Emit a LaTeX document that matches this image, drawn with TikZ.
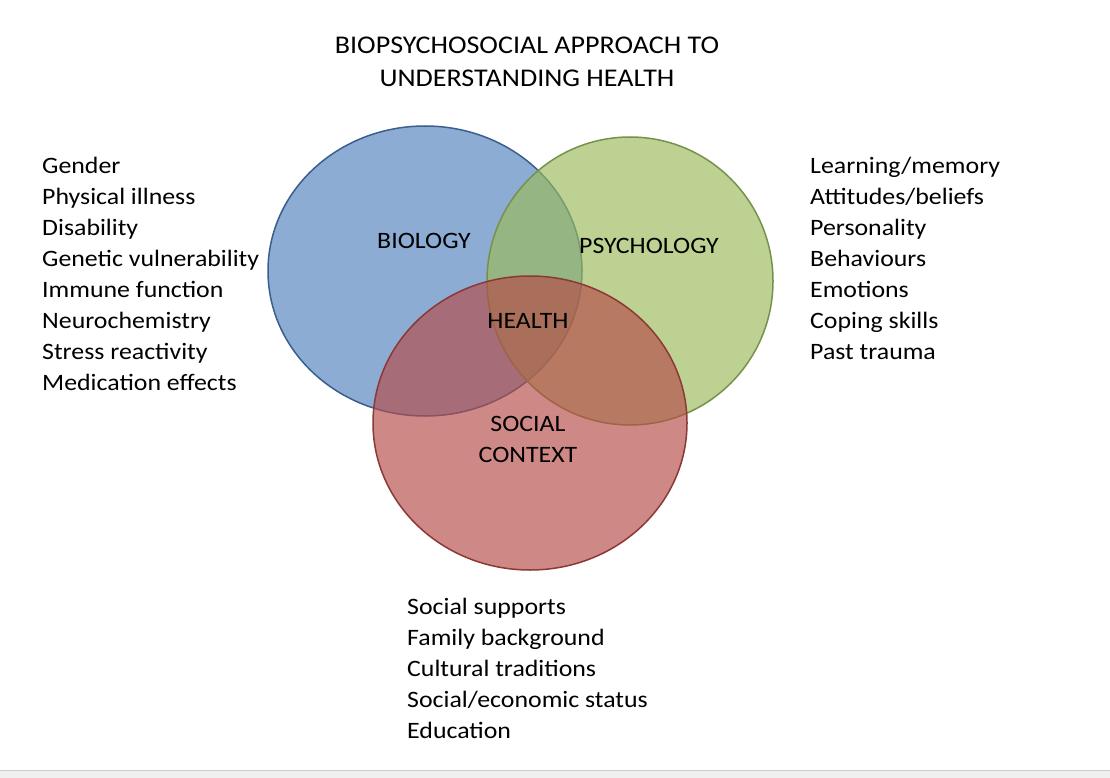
\documentclass[tikz,border=0pt]{standalone}
\usepackage{fontspec}
\setmainfont{Carlito}[FakeStretch=1.1]
\begin{document}
\begin{tikzpicture}[x=1pt,y=-1pt,
  lbl/.style={font=\fontsize{23.5}{31}\selectfont, inner sep=0pt},
  lst/.style={lbl, align=left, anchor=north west},
  circ/.style={line width=1.5pt, fill opacity=0.65}]
\useasboundingbox[fill=white] (0,0) rectangle (1110,778);
\fill[black!6] (0,770) rectangle (1110,778);
\draw[black!20] (0,770) -- (1110,770);
\definecolor{bfill}{HTML}{4F81BD}\definecolor{bline}{HTML}{3A5F8E}
\definecolor{gfill}{HTML}{9BBB59}\definecolor{gline}{HTML}{76924A}
\definecolor{rfill}{HTML}{B54A47}\definecolor{rline}{HTML}{8C3836}
\node[lbl, font=\fontsize{25.5}{33}\selectfont, align=center] (title) at (527,62) {BIOPSYCHOSOCIAL APPROACH TO\\UNDERSTANDING HEALTH};
\path[circ, fill=bfill, draw=bline] (425,271) ellipse [x radius=157, y radius=145];
\path[circ, fill=gfill, draw=gline] (630,281) ellipse [x radius=143, y radius=144];
\path[circ, fill=rfill, draw=rline] (530,423) ellipse [x radius=157, y radius=147];
\node[lbl] (bio) at (424,241) {BIOLOGY};
\node[lbl] (psy) at (649,246) {PSYCHOLOGY};
\node[lbl] (hea) at (528,321) {HEALTH};
\node[lbl, align=center] (soc) at (528,439) {SOCIAL\\CONTEXT};
\node[lst] (l1) at (42,157) {Gender\\Physical illness\\Disability\\Genetic vulnerability\\Immune function\\Neurochemistry\\Stress reactivity\\Medication effects};
\node[lst] (l2) at (810,157) {Learning/memory\\Attitudes/beliefs\\Personality\\Behaviours\\Emotions\\Coping skills\\Past trauma};
\node[lst] (l3) at (407,598) {Social supports\\Family background\\Cultural traditions\\Social/economic status\\Education};
\end{tikzpicture}
\end{document}
